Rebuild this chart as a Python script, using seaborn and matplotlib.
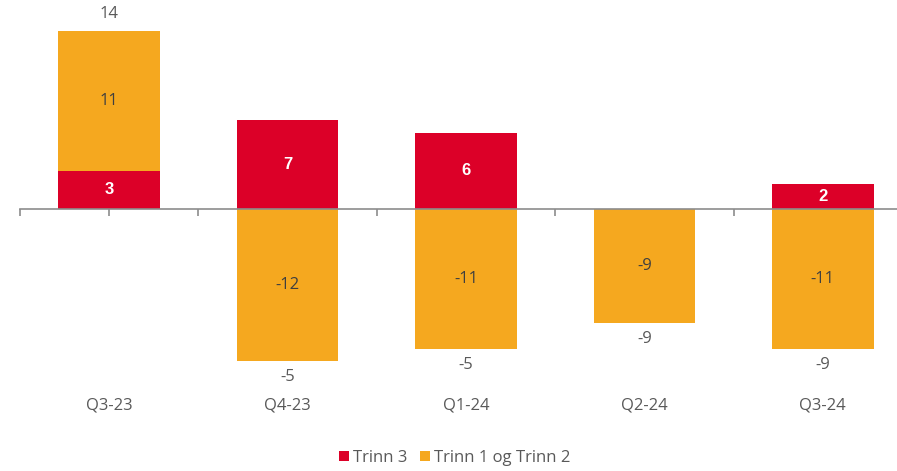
import matplotlib
matplotlib.use("Agg")
import matplotlib.pyplot as plt
import seaborn as sns
import numpy as np
import pandas as pd

categories = ["Q3-23", "Q4-23", "Q1-24", "Q2-24", "Q3-24"]
trinn3 = [3, 7, 6, 0, 2]
trinn12 = [11, -12, -11, -9, -11]
totals = [14, -5, -5, -9, -9]

RED = "#DC0028"
ORANGE = "#F5A81F"
GREY = "#595959"

sns.set_theme(style="white")
plt.rcParams['font.family'] = ['Open Sans', 'DejaVu Sans']

fig = plt.figure(figsize=(8.97, 4.71), dpi=100)
# axes spans x from 20px to 912px, y from 0 to 400px
ax = fig.add_axes([20/897, 1 - 400/471, 892/897, 400/471])

df3 = pd.DataFrame({"cat": categories, "val": trinn3})

bw = 0.57
sns.barplot(data=df3, x="cat", y="val", color=RED, width=bw, ax=ax,
            saturation=1, label="Trinn 3", order=categories, linewidth=0,
            edgecolor=RED)
bottoms = [t3 if v > 0 else 0 for t3, v in zip(trinn3, trinn12)]
x = np.arange(len(categories))
ax.bar(x, trinn12, bottom=bottoms, width=bw, color=ORANGE, linewidth=0,
       label="Trinn 1 og Trinn 2")

ppu = 12.7
ax.set_xlim(-0.5, 4.5)
ax.set_ylim(-(400 - 209) / ppu, 209 / ppu)

for s in ["top", "right", "left"]:
    ax.spines[s].set_visible(False)
ax.spines["bottom"].set_position(("data", 0))
ax.spines["bottom"].set_color("#8C8C8C")
ax.spines["bottom"].set_linewidth(1.2)
ax.set_xticks(x)
ax.set_xticks(np.arange(-0.5, 5.0, 1.0), minor=True)
ax.tick_params(axis="x", which="both", direction="out", length=5, width=1.2,
               color="#8C8C8C", labelbottom=False, bottom=True)
ax.set_yticks([])
ax.set_xlabel("")
ax.set_ylabel("")

for i in range(len(categories)):
    if trinn3[i] != 0:
        ax.text(i, trinn3[i] / 2, str(trinn3[i]), ha="center", va="center",
                color="white", fontsize=12, fontweight="bold",
                family=["Liberation Sans", "DejaVu Sans"])
    b = bottoms[i]
    ax.text(i, b + trinn12[i] / 2, str(trinn12[i]), ha="center", va="center",
            color="#3F3F3F", fontsize=12)
    if totals[i] > 0:
        top = trinn3[i] + max(trinn12[i], 0)
        ax.annotate(str(totals[i]), (i, top), xytext=(0, 12.2), textcoords="offset points",
                    ha="center", va="center", color=GREY, fontsize=12)
    else:
        low = min(trinn12[i], 0)
        ax.annotate(str(totals[i]), (i, low), xytext=(0, -11.5), textcoords="offset points",
                    ha="center", va="center", color=GREY, fontsize=12)
    ax.text(i, -(405 - 209) / ppu, categories[i], ha="center", va="center",
            color=GREY, fontsize=12)

handles, labels = ax.get_legend_handles_labels()
if ax.get_legend():
    ax.get_legend().remove()
fig.legend(handles, labels, loc="center", bbox_to_anchor=(455/897, 1 - 458/471),
           ncol=2, frameon=False, fontsize=12, handlelength=0.6, handleheight=0.6,
           handletextpad=0.25, columnspacing=0.75, labelcolor=GREY)

fig.savefig("out.png", dpi=100)
